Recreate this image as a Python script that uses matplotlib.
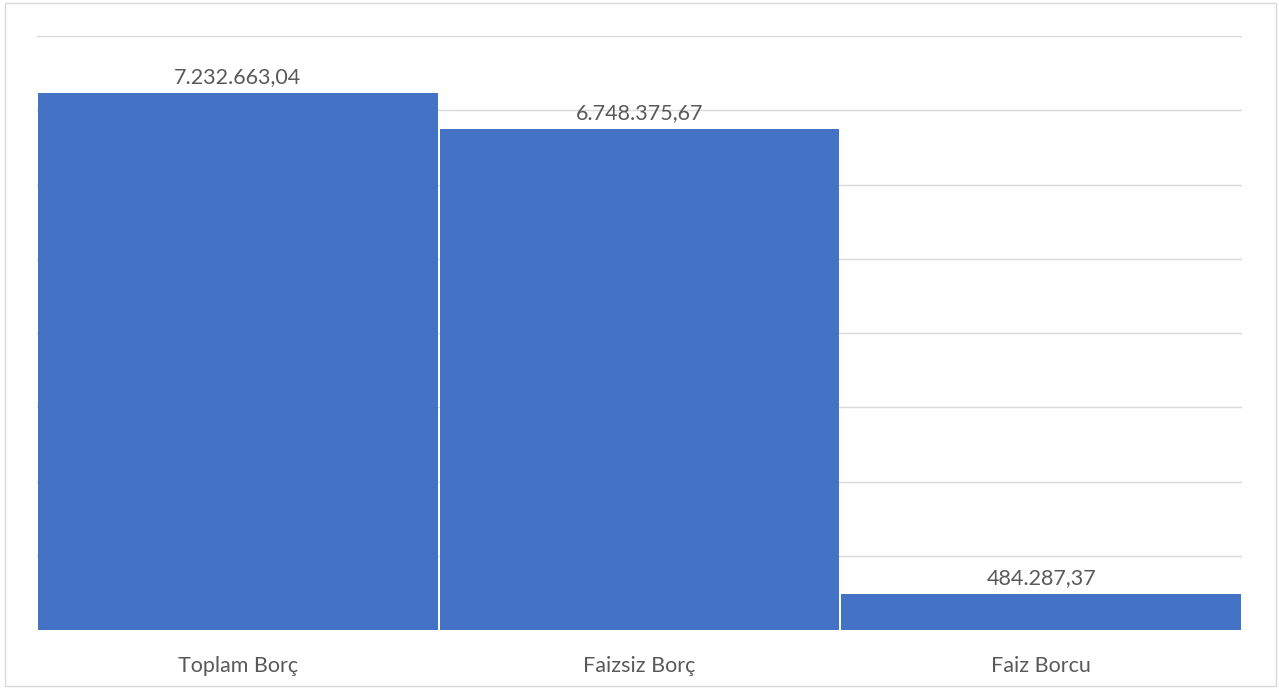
import matplotlib.pyplot as plt
from matplotlib.patches import Rectangle

categories = ['Toplam Borç', 'Faizsiz Borç', 'Faiz Borcu']
values = [7232663.04, 6748375.67, 484287.37]
labels = ['7.232.663,04', '6.748.375,67', '484.287,37']

plt.rcParams['font.family'] = ['Lato', 'DejaVu Sans']

fig = plt.figure(figsize=(12.79, 6.90), dpi=100)
ax = fig.add_axes([37 / 1279, 1 - 630 / 690, 1205 / 1279, 594 / 690])

# çerçeve
fig.patches.append(Rectangle((5 / 1279, 1 - 686 / 690), 1271 / 1279, 683 / 690,
                             transform=fig.transFigure, fill=False,
                             edgecolor='#d9d9d9', linewidth=1))

x = range(len(categories))
ax.bar(x, values, width=0.995, color='#4472C4', zorder=2)
for xi, v, lab in zip(x, values, labels):
    ax.text(xi, v + 80000, lab, ha='center', va='bottom', fontsize=15.5, color='#595959')

ax.set_xlim(-0.5, 2.5)
ax.set_ylim(0, 8000000)
ax.set_yticks(range(0, 8000001, 1000000))
ax.yaxis.grid(True, color='#d9d9d9', linewidth=1, zorder=0)
ax.set_yticklabels([])
ax.tick_params(axis='y', length=0)
ax.set_xticks(list(x))
ax.set_xticklabels(categories, fontsize=15.5, color='#595959')
ax.tick_params(axis='x', length=0, pad=19)
for s in ax.spines.values():
    s.set_visible(False)

fig.savefig('out.png', dpi=100)
